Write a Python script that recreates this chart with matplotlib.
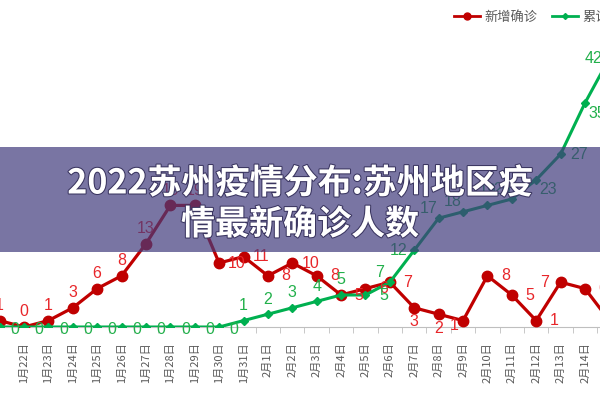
import matplotlib
matplotlib.use("Agg")
import matplotlib.pyplot as plt
import matplotlib.patheffects as pe
from matplotlib.lines import Line2D
from matplotlib.patches import Rectangle

plt.rcParams['font.family'] = ['Noto Sans CJK SC', 'DejaVu Sans']

# 数据 (1月21日 - 2月15日)
dates = ['1月21日', '1月22日', '1月23日', '1月24日', '1月25日', '1月26日', '1月27日',
         '1月28日', '1月29日', '1月30日', '1月31日', '2月1日', '2月2日', '2月3日',
         '2月4日', '2月5日', '2月6日', '2月7日', '2月8日', '2月9日', '2月10日',
         '2月11日', '2月12日', '2月13日', '2月14日', '2月15日']
new_cases = [1, 0, 1, 3, 6, 8, 13, 19, 19, 10, 11, 8, 10, 8, 5, 6, 7, 3, 2, 1, 8, 5, 1, 7, 6, 1]
total_cases = [0, 0, 0, 0, 0, 0, 0, 0, 0, 0, 1, 2, 3, 4, 5, 5, 7, 12, 17, 18, 19, 20, 23, 27, 35, 42]

# 标签位置 (像素偏移)
red_pos = ['a'] * 9 + ['r'] * 8 + ['b', 'b', 'bl', 'r', 'r', 'r', 'l', 'r', 'r']
green_pos = ['z'] * 10 + ['a'] * 5 + ['r', 'al', 'l', 'al', 'al', 'a', 'al', 'rb', 'r', 'rb', 'l']
offsets = {'a': (0, 15), 'r': (18, 0), 'b': (0, -14), 'l': (-16, 0), 'bl': (-9, -5),
           'z': (15, -2), 'al': (-10, 10), 'rb': (12, -10)}

red = '#c00000'
green = '#00b050'

fig = plt.figure(figsize=(6, 4), dpi=100)
ax = fig.add_axes([0, 0.1825, 1, 0.72])

x = list(range(len(dates)))
ax.plot(x, new_cases, color=red, lw=2.3, marker='o', ms=7.5, zorder=3)
ax.plot(x, total_cases, color=green, lw=2.2, marker='D', ms=4.5, zorder=4)

for i in x:
    dx, dy = offsets[red_pos[i]]
    ax.annotate(str(new_cases[i]), (i, new_cases[i]), xytext=(dx, dy), textcoords='offset pixels',
                ha='center', va='center', color='#e8262a', fontsize=11.5,
                family='Liberation Sans', zorder=5, annotation_clip=False)
    dx, dy = offsets[green_pos[i]]
    ax.annotate(str(total_cases[i]), (i, total_cases[i]), xytext=(dx, dy), textcoords='offset pixels',
                ha='center', va='center', color='#22b04b', fontsize=11.5,
                family='Liberation Sans', zorder=5, annotation_clip=False)

ax.set_yticks(range(0, 46, 5))
ax.yaxis.set_visible(False)
ax.grid(axis='y', color='#c4c4c4', lw=1.3)
ax.set_axisbelow(True)
for s in ['top', 'left', 'right']:
    ax.spines[s].set_visible(False)
ax.spines['bottom'].set_color('#bfbfbf')

ax.set_xticks(x)
ax.set_xticklabels(dates, rotation=90, fontsize=8, color='#595959')
ax.tick_params(axis='x', which='major', length=0, pad=11)
ax.set_xticks([i + 0.5 for i in x], minor=True)
ax.tick_params(axis='x', which='minor', length=4, color='#bfbfbf')
ax.set_xlim(0.016, 24.616)
ax.set_ylim(0, 45)

handles = [Line2D([], [], color=red, lw=2, marker='o', ms=5),
           Line2D([], [], color=green, lw=2, marker='D', ms=3)]
fig.legend(handles, ['新增确诊', '累计确诊'], loc='center left', bbox_to_anchor=(0.737, 0.957),
           ncol=2, frameon=False, fontsize=9.5, labelcolor='#595959', handlelength=2.0,
           handletextpad=0.3, columnspacing=1.1)

# 标题横幅
fig.add_artist(Rectangle((0, 0.37), 1, 0.2625, transform=fig.transFigure,
                         facecolor='#413b7c', alpha=0.7, edgecolor='none', zorder=10))
shadow = [pe.withStroke(linewidth=1.5, foreground='#3a3560')]
fig.text(0.5, 0.5425, '2022苏州疫情分布:苏州地区疫', ha='center', va='center', color='white',
         fontsize=24.5, fontweight='bold', zorder=11, path_effects=shadow)
fig.text(0.5, 0.44, '情最新确诊人数', ha='center', va='center', color='white',
         fontsize=24.5, fontweight='bold', zorder=11, path_effects=shadow)

fig.savefig('out.png', dpi=100)
